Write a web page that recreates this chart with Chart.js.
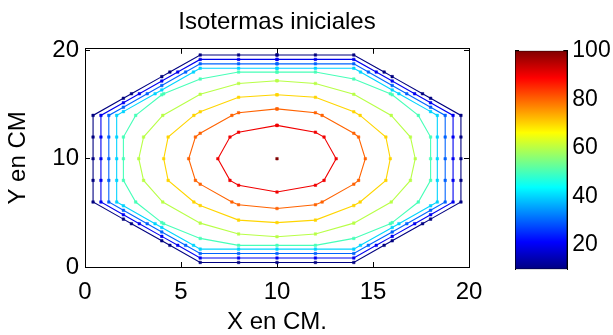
<!DOCTYPE html>
<html>
<head>
<meta charset="utf-8">
<script src="https://cdn.jsdelivr.net/npm/chart.js@4.4.1/dist/chart.umd.min.js"></script>
<style>
html,body{margin:0;padding:0;background:#fff;}
#wrap{position:relative;width:613px;height:335px;overflow:hidden;}
#wrap canvas{position:absolute;left:0;top:0;}
</style>
</head>
<body>
<div id="wrap">
<canvas id="main" width="613" height="335"></canvas>
<canvas id="cbar" width="613" height="335"></canvas>
</div>
<script>
// ---------------- data ----------------
const levels = [10, 20, 30, 40, 50, 60, 70, 80, 90, 100];

const iso10 = [[10,19.58],[8,19.58],[6,19.58],[4.42,18],[4,17.58],[2.42,16],[2,15.58],[0.42,14],[0.42,12],[0.42,10],[0.42,8],[0.42,6],[2,4.42],[2.42,4],[4,2.42],[4.42,2],[6,0.42],[8,0.42],[10,0.42],[12,0.42],[14,0.42],[15.58,2],[16,2.42],[17.58,4],[18,4.42],[19.58,6],[19.58,8],[19.58,10],[19.58,12],[19.58,14],[18,15.58],[17.58,16],[16,17.58],[15.58,18],[14,19.58],[12,19.58],[10,19.58]];
const iso20 = [[10,19.17],[8,19.17],[6,19.17],[4.83,18],[4,17.17],[2.83,16],[2,15.17],[0.83,14],[0.83,12],[0.83,10],[0.83,8],[0.83,6],[2,4.83],[2.83,4],[4,2.83],[4.83,2],[6,0.83],[8,0.83],[10,0.83],[12,0.83],[14,0.83],[15.17,2],[16,2.83],[17.17,4],[18,4.83],[19.17,6],[19.17,8],[19.17,10],[19.17,12],[19.17,14],[18,15.17],[17.17,16],[16,17.17],[15.17,18],[14,19.17],[12,19.17],[10,19.17]];
const iso30 = [[10,18.76],[8,18.76],[6,18.76],[5.24,18],[4,16.76],[3.24,16],[2,14.76],[1.24,14],[1.24,12],[1.24,10],[1.24,8],[1.24,6],[2,5.24],[3.24,4],[4,3.24],[5.24,2],[6,1.24],[8,1.24],[10,1.24],[12,1.24],[14,1.24],[14.76,2],[16,3.24],[16.76,4],[18,5.24],[18.76,6],[18.76,8],[18.76,10],[18.76,12],[18.76,14],[18,14.76],[16.76,16],[16,16.76],[14.76,18],[14,18.76],[12,18.76],[10,18.76]];
const iso40 = [[10,18.35],[8,18.35],[6,18.35],[5.65,18],[4,16.35],[3.65,16],[2,14.35],[1.65,14],[1.65,12],[1.65,10],[1.65,8],[1.65,6],[2,5.65],[3.65,4],[4,3.65],[5.65,2],[6,1.65],[8,1.65],[10,1.65],[12,1.65],[14,1.65],[14.35,2],[16,3.65],[16.35,4],[18,5.65],[18.35,6],[18.35,8],[18.35,10],[18.35,12],[18.35,14],[18,14.35],[16.35,16],[16,16.35],[14.35,18],[14,18.35],[12,18.35],[10,18.35]];
const iso50 = [[10,18],[8,18],[6,17.36],[4.1,16],[4,15.9],[2.64,14],[2,12],[2,10],[2,8],[2.64,6],[4,4.1],[4.1,4],[6,2.64],[8,2],[10,2],[12,2],[14,2.64],[15.9,4],[16,4.1],[17.36,6],[18,8],[18,10],[18,12],[17.36,14],[16,15.9],[15.9,16],[14,17.36],[12,18],[10,18]];
const iso60 = [[10,17.2],[8,16.95],[6,15.95],[4.05,14],[3.05,12],[2.8,10],[3.05,8],[4.05,6],[6,4.05],[8,3.05],[10,2.8],[12,3.05],[14,4.05],[15.95,6],[16.95,8],[17.2,10],[16.95,12],[15.95,14],[14,15.95],[12,16.95],[10,17.2]];
const iso70 = [[10,15.9],[8,15.67],[6,14.33],[5.67,14],[4.33,12],[4.1,10],[4.33,8],[5.67,6],[6,5.67],[8,4.33],[10,4.1],[12,4.33],[14,5.67],[14.33,6],[15.67,8],[15.9,10],[15.67,12],[14.33,14],[14,14.33],[12,15.67],[10,15.9]];
const iso80 = [[10,14.6],[8,14.25],[7.65,14],[6,12.35],[5.75,12],[5.4,10],[5.75,8],[6,7.65],[7.65,6],[8,5.75],[10,5.4],[12,5.75],[12.35,6],[14,7.65],[14.25,8],[14.6,10],[14.25,12],[14,12.35],[12.35,14],[12,14.25],[10,14.6]];
const iso90 = [[10,13.08],[8,12.45],[7.55,12],[6.92,10],[7.55,8],[8,7.55],[10,6.92],[12,7.55],[12.45,8],[13.08,10],[12.45,12],[12,12.45],[10,13.08]];
const iso100 = [[10,10]];
const contourLines = [iso10, iso20, iso30, iso40, iso50, iso60, iso70, iso80, iso90, iso100];

const xTicks = [0, 5, 10, 15, 20];
const yTicks = [0, 10, 20];
const colorbarRange = [10, 100];
const colorbarTicks = [20, 40, 60, 80, 100];

// ---------------- styles ----------------
const FONT = '"Liberation Sans", Arial, Helvetica, sans-serif';
Chart.defaults.font.family = FONT;
Chart.defaults.color = '#000';

function jet(v) {
  const f = (v - colorbarRange[0]) / (colorbarRange[1] - colorbarRange[0]);
  const c = t => Math.round(255 * Math.max(0, Math.min(1, t)));
  return 'rgb(' + c(1.5 - Math.abs(4 * f - 3)) + ',' + c(1.5 - Math.abs(4 * f - 2)) + ',' + c(1.5 - Math.abs(4 * f - 1)) + ')';
}
const jetStops = [[0, 'rgb(0,0,128)'], [0.125, 'rgb(0,0,255)'], [0.375, 'rgb(0,255,255)'], [0.625, 'rgb(255,255,0)'], [0.875, 'rgb(255,0,0)'], [1, 'rgb(128,0,0)']];

const tickGrid = { drawOnChartArea: false, drawTicks: true, tickLength: -5, color: '#000', tickWidth: 1 };
const blackBorder = { display: true, color: '#000', width: 1 };

// ---------------- main contour chart ----------------
new Chart(document.getElementById('main'), {
  type: 'scatter',
  data: {
    datasets: levels.map((L, i) => ({
      label: 'T = ' + L,
      data: contourLines[i].map(p => ({ x: p[0], y: p[1] })),
      showLine: true,
      borderColor: jet(L),
      backgroundColor: jet(L),
      pointBorderColor: jet(L),
      borderWidth: 1.1,
      tension: 0,
      fill: false,
      pointStyle: 'rect',
      pointRadius: 1.8,
      pointBorderWidth: 0.5
    }))
  },
  options: {
    responsive: false,
    animation: false,
    events: [],
    layout: { padding: { left: 0, right: 144, top: 0, bottom: 0 } },
    plugins: {
      legend: { display: false },
      tooltip: { enabled: false },
      title: {
        display: true, text: 'Isotermas iniciales', fullSize: false, color: '#000',
        font: { size: 24, weight: 'normal', lineHeight: 1.2 },
        padding: { top: 8, bottom: 12 }
      }
    },
    scales: {
      x: {
        type: 'linear', position: 'bottom', min: 0, max: 20,
        afterBuildTicks: s => { s.ticks = xTicks.map(v => ({ value: v })); },
        afterFit: s => { s.height = 68; },
        ticks: { color: '#000', font: { size: 24 }, padding: 15.6, maxRotation: 0, autoSkip: false },
        grid: tickGrid, border: blackBorder,
        title: { display: true, text: 'X en CM.', color: '#000', font: { size: 24, lineHeight: 1 }, padding: { top: 0, bottom: 1 } }
      },
      y: {
        type: 'linear', position: 'left', min: 0, max: 20.15,
        afterBuildTicks: s => { s.ticks = yTicks.map(v => ({ value: v })); },
        afterFit: s => { s.width = 85; },
        ticks: { color: '#000', font: { size: 24 }, padding: 11, autoSkip: false },
        grid: tickGrid, border: blackBorder,
        title: { display: true, text: 'Y en CM', color: '#000', font: { size: 24, lineHeight: 1 }, padding: { top: 6, bottom: 0 } }
      },
      x2: {
        type: 'linear', position: 'top', min: 0, max: 20,
        afterBuildTicks: s => { s.ticks = xTicks.map(v => ({ value: v })); },
        afterFit: s => { s.height = 0; },
        ticks: { display: false },
        grid: tickGrid, border: blackBorder
      },
      y2: {
        type: 'linear', position: 'right', min: 0, max: 20.15,
        afterBuildTicks: s => { s.ticks = yTicks.map(v => ({ value: v })); },
        afterFit: s => { s.width = 0; },
        ticks: { display: false },
        grid: tickGrid, border: blackBorder
      }
    }
  }
});

// ---------------- colorbar ----------------
const cbGrid = { drawOnChartArea: false, drawTicks: true, tickLength: -4, color: '#000', tickWidth: 1 };
new Chart(document.getElementById('cbar'), {
  type: 'bar',
  data: {
    labels: [''],
    datasets: [{
      data: [colorbarRange],
      barPercentage: 1, categoryPercentage: 1,
      borderWidth: 1, borderColor: '#000', borderSkipped: false,
      backgroundColor: c => {
        const ch = c.chart;
        if (!ch.chartArea) return '#888';
        const y0 = ch.scales.y.getPixelForValue(colorbarRange[0]);
        const y1 = ch.scales.y.getPixelForValue(colorbarRange[1]);
        const g = ch.ctx.createLinearGradient(0, y0, 0, y1);
        jetStops.forEach(s => g.addColorStop(s[0], s[1]));
        return g;
      }
    }]
  },
  options: {
    responsive: false,
    animation: false,
    events: [],
    layout: { padding: { left: 515, right: 0, top: 50.7, bottom: 65.7 } },
    plugins: { legend: { display: false }, tooltip: { enabled: false } },
    scales: {
      x: { display: false },
      y: {
        type: 'linear', position: 'right', min: colorbarRange[0], max: colorbarRange[1],
        afterBuildTicks: s => { s.ticks = colorbarTicks.map(v => ({ value: v })); },
        afterFit: s => { s.width = 45.7; },
        ticks: { color: '#000', font: { size: 23 }, padding: 9, autoSkip: false },
        grid: cbGrid, border: blackBorder
      },
      yl: {
        type: 'linear', position: 'left', min: colorbarRange[0], max: colorbarRange[1],
        afterBuildTicks: s => { s.ticks = colorbarTicks.map(v => ({ value: v })); },
        afterFit: s => { s.width = 0; },
        ticks: { display: false },
        grid: cbGrid, border: blackBorder
      }
    }
  }
});
</script>
</body>
</html>
